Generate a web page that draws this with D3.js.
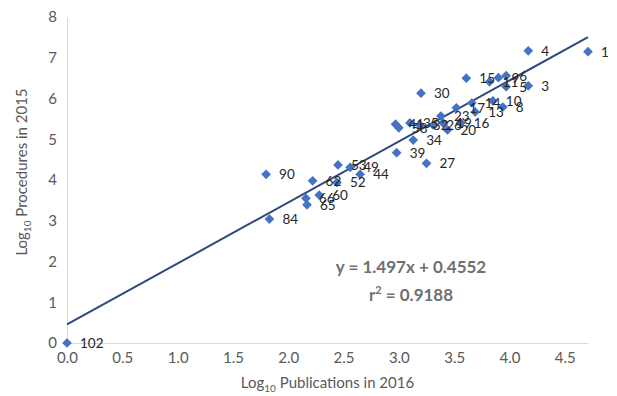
<!DOCTYPE html>
<html>
<head>
<meta charset="utf-8">
<script src="https://cdn.jsdelivr.net/npm/d3@7"></script>
<style>
	body { margin: 0; background: #fff; }
	text { font-family: Lato, "Open Sans", sans-serif; }
</style>
</head>
<body>
<div id="chart"></div>
<script>
// values (log10 scale)
const pointLabels = ["102", "1", "4", "3", "5", "6", "9", "11", "15", "30",
	"10", "14", "13", "8", "17", "23", "16", "20", "19", "26", "32", "35", "58", "41",
	"34", "39", "27", "53", "49", "44", "52", "62", "90", "60", "66", "65", "84"];
const logPubs = [0.00, 4.71, 4.17, 4.17, 3.97, 3.97, 3.90, 3.82, 3.61, 3.20,
	3.85, 3.66, 3.69, 3.94, 3.52, 3.38, 3.56, 3.44, 3.40, 3.31, 3.19, 3.10, 3.00, 2.97,
	3.13, 2.98, 3.25, 2.45, 2.56, 2.65, 2.44, 2.22, 1.80, 2.28, 2.16, 2.17, 1.83];
const logProcs = [0.00, 7.15, 7.17, 6.31, 6.29, 6.56, 6.51, 6.41, 6.50, 6.13,
	5.94, 5.89, 5.67, 5.79, 5.77, 5.57, 5.40, 5.23, 5.40, 5.35, 5.35, 5.40, 5.28, 5.37,
	4.98, 4.67, 4.41, 4.37, 4.31, 4.14, 3.94, 3.98, 4.14, 3.63, 3.55, 3.39, 3.04];
const xTicks = [0, 0.5, 1, 1.5, 2, 2.5, 3, 3.5, 4, 4.5];
const yTicks = [0, 1, 2, 3, 4, 5, 6, 7, 8];
const slope = 1.497, intercept = 0.4552, rSquared = 0.9188;

const width = 617, height = 396;
const margin = {left: 67, right: 29, top: 17, bottom: 53};

const points = pointLabels.map((l, i) => ({label: l, x: logPubs[i], y: logProcs[i]}));

const svg = d3.select("#chart")
	.append("svg")
	.attr("width", width)
	.attr("height", height);

const xscale = d3.scaleLinear()
	.domain([0, 4.71])
	.range([margin.left, width - margin.right]);

const yscale = d3.scaleLinear()
	.domain([0, 8])
	.range([height - margin.bottom, margin.top]);

const x_axis = d3.axisBottom(xscale)
	.tickValues(xTicks)
	.tickSize(0)
	.tickPadding(9)
	.tickFormat(d3.format(".1f"));

const y_axis = d3.axisLeft(yscale)
	.tickValues(yTicks)
	.tickSize(0)
	.tickPadding(10)
	.tickFormat(d => d);

const gx = svg.append("g")
	.attr("transform", "translate(0," + yscale(0) + ")")
	.call(x_axis);
gx.select(".domain").attr("stroke", "#d9d9d9");

const gy = svg.append("g")
	.attr("transform", "translate(" + xscale(0) + ",0)")
	.call(y_axis);
gy.select(".domain").attr("stroke", "#d9d9d9");

svg.selectAll(".tick text")
	.attr("fill", "#595959")
	.style("font-size", "15px");

// axis titles
const xt = svg.append("text")
	.attr("x", (xscale.range()[0] + xscale.range()[1]) / 2)
	.attr("y", 388)
	.attr("text-anchor", "middle")
	.attr("fill", "#595959")
	.style("font-size", "15px");
xt.append("tspan").text("Log");
xt.append("tspan").attr("dy", 4).style("font-size", "10px").text("10");
xt.append("tspan").attr("dy", -4).text(" Publications in 2016");

const yt = svg.append("text")
	.attr("transform", "translate(27," + 172 + ") rotate(-90)")
	.attr("text-anchor", "middle")
	.attr("fill", "#595959")
	.style("font-size", "15px");
yt.append("tspan").text("Log");
yt.append("tspan").attr("dy", 4).style("font-size", "10px").text("10");
yt.append("tspan").attr("dy", -4).text(" Procedures in 2015");

// trend line
const xmin = d3.min(logPubs), xmax = d3.max(logPubs);
const line = d3.line().x(d => xscale(d)).y(d => yscale(slope * d + intercept));
svg.append("path")
	.attr("d", line([xmin, xmax]))
	.attr("fill", "none")
	.attr("stroke", "#2e4a7d")
	.attr("stroke-width", 2);

// points
const diamond = d3.symbol().type(d3.symbolDiamond2).size(60);
svg.append("g")
	.selectAll("path")
	.data(points)
	.join("path")
	.attr("d", diamond)
	.attr("transform", d => "translate(" + xscale(d.x) + "," + yscale(d.y) + ")")
	.attr("fill", "#4472c4");

svg.append("g")
	.selectAll("text")
	.data(points)
	.join("text")
	.attr("x", d => xscale(d.x) + 13)
	.attr("y", d => yscale(d.y) + 5)
	.attr("fill", "#262626")
	.style("font-size", "13.5px")
	.text(d => d.label);

// equation
const eq = svg.append("g")
	.attr("fill", "#707070")
	.style("font-weight", "bold")
	.style("font-size", "17px")
	.attr("text-anchor", "middle");
eq.append("text")
	.attr("x", 411)
	.attr("y", 273)
	.text("y = " + slope + "x + " + intercept);
const r2 = eq.append("text")
	.attr("x", 411)
	.attr("y", 301);
r2.append("tspan").text("r");
r2.append("tspan").attr("dy", -7).style("font-size", "11px").text("2");
r2.append("tspan").attr("dy", 7).text(" = " + rSquared);
</script>
</body>
</html>
